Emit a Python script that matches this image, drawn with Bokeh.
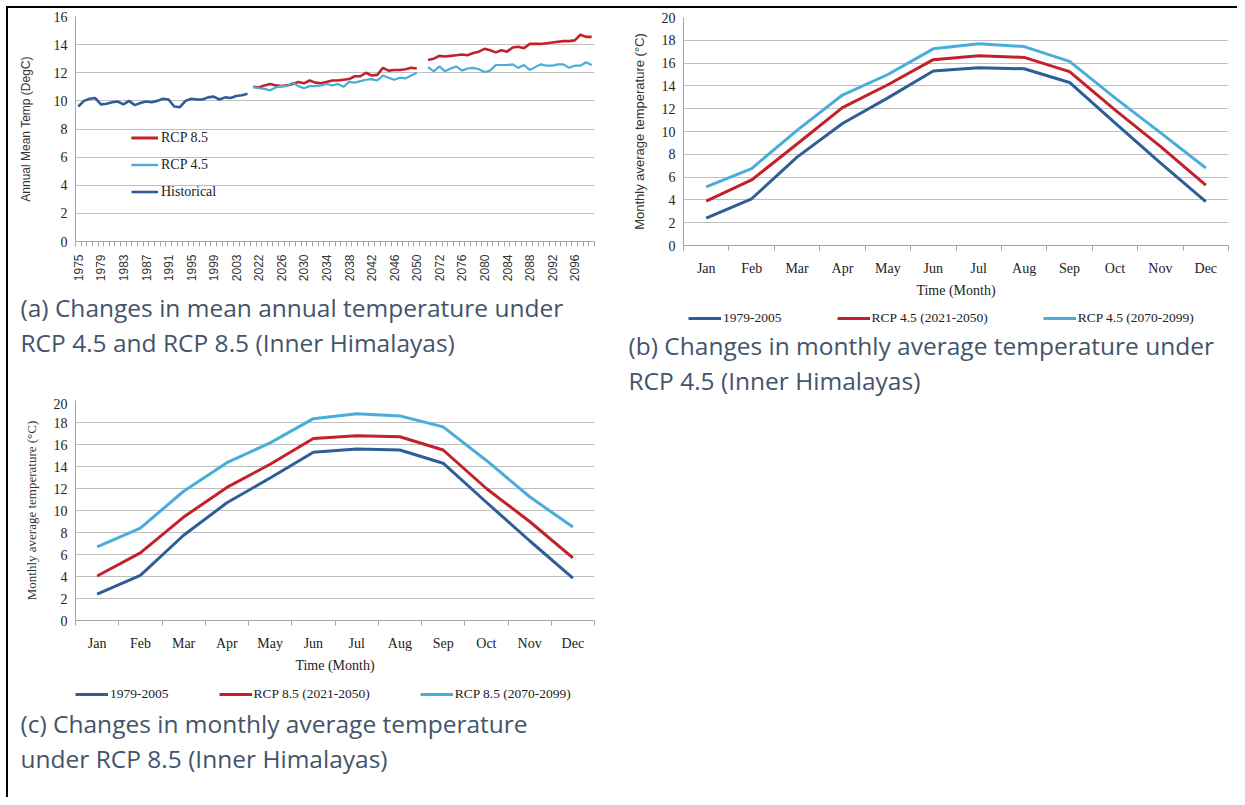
import math
from bokeh.plotting import figure
from bokeh.models import FixedTicker, Legend, LegendItem, Title, Range1d
from bokeh.layouts import column, row
from bokeh.embed import file_html
from bokeh.resources import INLINE

# ---------------- data: panel (a) ----------------
hist_years = list(range(1975, 2006))
hist_temp = [9.6, 10.0, 10.15, 10.2, 9.75, 9.8, 9.9, 9.95, 9.75, 10.0, 9.7, 9.85,
             9.95, 9.9, 10.0, 10.15, 10.1, 9.6, 9.55, 10.0, 10.15, 10.1, 10.1, 10.25,
             10.3, 10.1, 10.25, 10.2, 10.35, 10.4, 10.5]
mid_years = list(range(2021, 2051))
rcp45_mid = [11.0, 10.9, 10.85, 10.75, 10.95, 11.05, 11.05, 11.3, 11.05, 10.9,
             11.05, 11.05, 11.1, 11.2, 11.1, 11.2, 11.0, 11.35, 11.3, 11.4,
             11.5, 11.55, 11.45, 11.8, 11.65, 11.5, 11.65, 11.6, 11.8, 12.0]
rcp85_mid = [11.0, 10.95, 11.1, 11.2, 11.1, 11.05, 11.1, 11.2, 11.35, 11.25,
             11.45, 11.3, 11.25, 11.35, 11.45, 11.45, 11.5, 11.55, 11.75, 11.75,
             12.0, 11.8, 11.85, 12.35, 12.15, 12.2, 12.2, 12.25, 12.35, 12.3]
late_years = list(range(2070, 2100))
rcp45_late = [12.4, 12.1, 12.45, 12.1, 12.3, 12.45, 12.15, 12.3, 12.35, 12.25,
              12.05, 12.15, 12.55, 12.55, 12.55, 12.6, 12.35, 12.55, 12.2, 12.4,
              12.6, 12.5, 12.5, 12.6, 12.6, 12.35, 12.5, 12.5, 12.75, 12.55]
rcp85_late = [12.9, 13.0, 13.2, 13.15, 13.2, 13.25, 13.3, 13.25, 13.4, 13.5,
              13.7, 13.6, 13.45, 13.6, 13.5, 13.8, 13.85, 13.75, 14.05, 14.05,
              14.05, 14.1, 14.15, 14.2, 14.25, 14.25, 14.3, 14.7, 14.55, 14.55]
# category axis (one empty slot between the two future periods)
categories = hist_years + mid_years + [None] + late_years

# ---------------- data: panels (b) and (c) ----------------
months = ["Jan", "Feb", "Mar", "Apr", "May", "Jun", "Jul", "Aug", "Sep", "Oct", "Nov", "Dec"]
base_1979_2005 = [2.4, 4.1, 7.75, 10.7, 12.95, 15.3, 15.6, 15.5, 14.3, 10.75, 7.25, 3.85]
rcp45_2021_2050 = [3.9, 5.75, 8.9, 12.1, 14.1, 16.3, 16.65, 16.5, 15.25, 11.9, 8.7, 5.3]
rcp45_2070_2099 = [5.15, 6.75, 10.1, 13.2, 15.0, 17.25, 17.7, 17.45, 16.15, 12.95, 9.9, 6.8]
rcp85_2021_2050 = [4.05, 6.15, 9.4, 12.1, 14.2, 16.55, 16.8, 16.7, 15.5, 12.0, 9.0, 5.7]
rcp85_2070_2099 = [6.7, 8.4, 11.75, 14.35, 16.15, 18.35, 18.8, 18.6, 17.6, 14.55, 11.25, 8.5]

labels_b = ["1979-2005", "RCP 4.5 (2021-2050)", "RCP 4.5 (2070-2099)"]
labels_c = ["1979-2005", "RCP 8.5 (2021-2050)", "RCP 8.5 (2070-2099)"]
captions_a = ["(a) Changes in mean annual temperature under",
              "RCP 4.5 and RCP 8.5 (Inner Himalayas)"]
captions_b = ["(b) Changes in monthly average temperature under",
              "RCP 4.5 (Inner Himalayas)"]
captions_c = ["(c) Changes in monthly average temperature",
              "under RCP 8.5 (Inner Himalayas)"]

DARK = "#2E5E98"
RED = "#C4202B"
LIGHT = "#4AADD9"
GRID = "#BFBFBF"
AXIS = "#A6A6A6"
CAP = "#44546A"
SERIF = "Liberation Serif"
SANS = "Liberation Sans"
CAPFONT = "Open Sans"


def style(p, ymax, ystep):
    p.y_range = Range1d(0, ymax)
    p.yaxis.ticker = FixedTicker(ticks=list(range(0, ymax + 1, ystep)))
    p.outline_line_color = None
    p.xgrid.grid_line_color = None
    p.ygrid.grid_line_color = GRID
    p.ygrid.grid_line_width = 1
    p.yaxis.axis_line_color = AXIS
    p.yaxis.major_tick_line_color = None
    p.yaxis.minor_tick_line_color = None
    p.yaxis.major_tick_out = 0
    p.yaxis.major_label_text_font = SERIF
    p.yaxis.major_label_text_font_size = "14px"
    p.yaxis.major_label_text_color = "#222222"
    p.yaxis.major_label_standoff = 8
    p.xaxis.axis_line_color = AXIS
    p.xaxis.major_tick_line_color = None
    p.xaxis.major_tick_out = 0
    p.xaxis.minor_tick_line_color = AXIS
    p.xaxis.minor_tick_in = 0
    p.xaxis.minor_tick_out = 5
    p.background_fill_color = "white"
    p.border_fill_color = "white"


def caption_fig(width, height, frame_h, lines, offset, legend_spec=None):
    """Figure without axes: a short frame (holding an optional legend) and
    the caption lines stacked below it as titles."""
    c = figure(width=width, height=height, output_backend="svg", toolbar_location=None,
               x_axis_location=None, y_axis_location=None,
               min_border_left=0, min_border_right=0, min_border_top=0,
               min_border_bottom=height - frame_h)
    c.x_range = Range1d(0, 1)
    c.y_range = Range1d(100, 101)   # keeps the swatch-only lines out of view
    c.grid.visible = False
    c.outline_line_color = None
    c.background_fill_color = "white"
    c.border_fill_color = "white"
    if legend_spec is not None:
        labels, series, leg_x, leg_y, spacing = legend_spec
        xs = list(range(len(months)))
        rs = [c.line(xs, vals, line_color=col, line_width=3) for vals, col in series]
        leg = Legend(items=[LegendItem(label=l, renderers=[r]) for l, r in zip(labels, rs)],
                     location=(leg_x, leg_y), orientation="horizontal",
                     padding=0, margin=0, spacing=spacing, glyph_width=33, glyph_height=14,
                     label_height=14, label_standoff=2, label_text_font=SERIF,
                     label_text_font_size="13.5px", label_text_color="#222222",
                     border_line_color=None, background_fill_alpha=0)
        c.add_layout(leg, "center")
    for t in lines:
        c.add_layout(Title(text=t, align="left", offset=offset, standoff=0,
                           text_font=CAPFONT, text_font_size="24.5px",
                           text_font_style="normal", text_color=CAP), "below")
    return c


# ---------------- panel (a) ----------------
pa = figure(width=612, height=276, output_backend="svg", toolbar_location=None,
            min_border_left=67, min_border_right=26, min_border_top=8,
            min_border_bottom=276 - 8 - 225)
n = len(categories)
pa.x_range = Range1d(-0.5, n - 0.5)
style(pa, 16, 2)
pos = {y: i for i, y in enumerate(categories) if y is not None}
r_h = pa.line([pos[y] for y in hist_years], hist_temp, line_color=DARK, line_width=2.6)
r85a = pa.line([pos[y] for y in mid_years], rcp85_mid, line_color=RED, line_width=2.6)
r45a = pa.line([pos[y] for y in mid_years], rcp45_mid, line_color=LIGHT, line_width=2.2)
r85b = pa.line([pos[y] for y in late_years], rcp85_late, line_color=RED, line_width=2.6)
r45b = pa.line([pos[y] for y in late_years], rcp45_late, line_color=LIGHT, line_width=2.2)
major = list(range(0, n, 4))
pa.xaxis.ticker = FixedTicker(ticks=major, minor_ticks=[i - 0.5 for i in range(n + 1)])
pa.xaxis.major_label_overrides = {i: (str(categories[i]) if categories[i] else "") for i in major}
pa.xaxis.major_label_orientation = math.pi / 2
pa.xaxis.major_label_text_font = SANS
pa.xaxis.major_label_text_font_size = "12px"
pa.xaxis.major_label_text_color = "#333333"
pa.xaxis.major_label_standoff = 8
pa.yaxis.axis_label = "Annual Mean Temp (DegC)"
pa.yaxis.axis_label_text_font = SANS
pa.yaxis.axis_label_text_font_size = "12px"
pa.yaxis.axis_label_text_font_style = "normal"
pa.yaxis.axis_label_text_color = "#333333"
pa.yaxis.axis_label_standoff = 18
leg_a = Legend(items=[LegendItem(label="RCP 8.5", renderers=[r85a, r85b]),
                      LegendItem(label="RCP 4.5", renderers=[r45a, r45b]),
                      LegendItem(label="Historical", renderers=[r_h])],
               location=(56, 41), orientation="vertical", padding=0, margin=0,
               spacing=10, glyph_width=27, glyph_height=17, label_height=17,
               label_standoff=3, label_text_font=SERIF, label_text_font_size="14px",
               label_text_color="#222222", border_line_color=None,
               background_fill_alpha=0)
pa.add_layout(leg_a, "center")
cap_a = caption_fig(612, 114, 4, captions_a, -55)


# ---------------- monthly panels ----------------
def monthly(width, height, left, right, top, fh, series, ylab_font):
    p = figure(width=width, height=height, output_backend="svg", toolbar_location=None,
               min_border_left=left, min_border_right=right, min_border_top=top,
               min_border_bottom=height - top - fh)
    p.x_range = Range1d(-0.5, len(months) - 0.5)
    style(p, 20, 2)
    xs = list(range(len(months)))
    for vals, col in series:
        p.line(xs, vals, line_color=col, line_width=3)
    p.xaxis.ticker = FixedTicker(ticks=xs, minor_ticks=[i - 0.5 for i in range(len(months) + 1)])
    p.xaxis.major_label_overrides = {i: m for i, m in enumerate(months)}
    p.xaxis.major_label_text_font = SERIF
    p.xaxis.major_label_text_font_size = "14px"
    p.xaxis.major_label_text_color = "#222222"
    p.xaxis.major_label_standoff = 10
    p.xaxis.axis_label = "Time (Month)"
    p.xaxis.axis_label_text_font = SERIF
    p.xaxis.axis_label_text_font_size = "14px"
    p.xaxis.axis_label_text_font_style = "normal"
    p.xaxis.axis_label_text_color = "#222222"
    p.xaxis.axis_label_standoff = 4
    p.yaxis.axis_label = "Monthly average temperature (\u00b0C)"
    p.yaxis.axis_label_text_font = ylab_font
    p.yaxis.axis_label_text_font_size = "13px"
    p.yaxis.axis_label_text_font_style = "normal"
    p.yaxis.axis_label_text_color = "#333333"
    p.yaxis.axis_label_standoff = 12
    return p


series_b = [(base_1979_2005, DARK), (rcp45_2021_2050, RED), (rcp45_2070_2099, LIGHT)]
series_c = [(base_1979_2005, DARK), (rcp85_2021_2050, RED), (rcp85_2070_2099, LIGHT)]

pb = monthly(617, 292, 63, 9, 9, 230, series_b, SANS)
cap_b = caption_fig(617, 98, 26, captions_b, -55, (labels_b, series_b, 5, 0, 55))

pc = monthly(612, 282, 67, 26, 2, 220, series_c, SERIF)
cap_c = caption_fig(612, 117, 24, captions_c, -55, (labels_c, series_c, 0, 2, 50))

layout = row(column(pa, cap_a, pc, cap_c, spacing=0), column(pb, cap_b, spacing=0), spacing=0,
             styles={"border-left": "2px solid #000", "border-top": "2px solid #000",
                     "margin-left": "6px", "margin-top": "6px"})

open("out.html", "w").write(file_html(layout, INLINE))
